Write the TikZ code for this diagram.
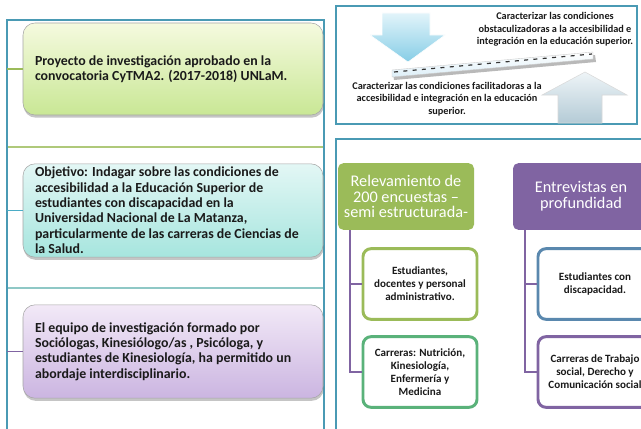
\documentclass[tikz,border=0pt]{standalone}
\usepackage{fontspec}
\setmainfont{Carlito}
\usetikzlibrary{shadows,calc}
\definecolor{frameC}{HTML}{4A9AB4}
\definecolor{olive}{HTML}{9BBB59}
\definecolor{tealC}{HTML}{4BACC6}
\definecolor{septeal}{HTML}{8FC8C6}
\definecolor{purp}{HTML}{8064A2}
\definecolor{greenB}{HTML}{5AB27A}
\definecolor{blueB}{HTML}{5A88AE}
\definecolor{txt}{HTML}{1A1A1A}
\definecolor{gA}{HTML}{F5FADF}
\definecolor{gB}{HTML}{C9E795}
\definecolor{cA}{HTML}{E3F7F5}
\definecolor{cB}{HTML}{A6E5DE}
\definecolor{lA}{HTML}{F2E9F7}
\definecolor{lB}{HTML}{CBB5E1}
\definecolor{dA}{HTML}{E2F4FA}
\definecolor{dB}{HTML}{86CDE6}
\definecolor{uA}{HTML}{EEF4F7}
\definecolor{uB}{HTML}{B4CBD6}
\definecolor{sB}{HTML}{DDEFF8}
\tikzset{
  frame/.style={draw=frameC, line width=1.5pt},
  bigbox/.style={draw=gray!70, line width=0.4pt, rounded corners=9pt,
    minimum width=225pt, minimum height=#1, inner sep=0pt,
    drop shadow={shadow xshift=0.5pt, shadow yshift=-2pt, opacity=0.45}},
  bigtxt/.style={anchor=west, inner sep=0pt, align=left, text=txt,
    font=\bfseries\fontsize{10.4}{11.5}\selectfont},
  header/.style={rounded corners=4pt, minimum width=102pt, minimum height=50pt,
    inner sep=0pt, align=center, text=white,
    font=\fontsize{12.2}{11.8}\selectfont},
  leaf/.style={draw=#1, line width=2.2pt, fill=white, rounded corners=6pt,
    minimum width=85.5pt, minimum height=53pt, inner sep=0pt, align=center,
    text=txt, font=\bfseries\fontsize{8.3}{9.8}\selectfont},
  treeline/.style={draw=purp, line width=2.2pt},
  smalltxt/.style={align=center, text=txt, inner sep=0pt,
    font=\bfseries\fontsize{7.7}{9.3}\selectfont},
}
\begin{document}
\begin{tikzpicture}[x=0.75pt,y=-0.75pt]
\clip (0,0) rectangle (641,428);
\fill[white] (0,0) rectangle (641,428);

% ---------- left panel ----------
\draw[frame] (7,20) rectangle (324,445);
\draw[olive!80, line width=1.2pt] (8,147) -- (323,147);
\draw[septeal, line width=1.2pt] (8,288) -- (323,288);
\coordinate (fl) at (7,0);

\node[bigbox=69pt, top color=gA, bottom color=gB] (p1) at (173,69) {};
\node[bigtxt] (p1t) at ([xshift=9pt]p1.west) {Proyecto de investigación aprobado en la\\convocatoria CyTMA2. (2017-2018) UNLaM.};
\node[bigbox=70pt, top color=cA, bottom color=cB] (p2) at (173,210.5) {};
\node[bigtxt] (p2t) at ([xshift=9pt]p2.west) {Objetivo: Indagar sobre las condiciones de\\accesibilidad a la Educación Superior de\\estudiantes con discapacidad en la\\Universidad Nacional de La Matanza,\\particularmente de las carreras de Ciencias de\\la Salud.};
\node[bigbox=70pt, top color=lA, bottom color=lB] (p3) at (173,351.5) {};
\node[bigtxt] (p3t) at ([xshift=9pt]p3.west) {El equipo de investigación formado por\\Sociólogas, Kinesiólogo/as , Psicóloga, y\\estudiantes de Kinesiología, ha permitido un\\abordaje interdisciplinario.};

\draw[olive, line width=0.8pt] (p1.west -| fl) -- (p1.west);
\draw[tealC, line width=0.8pt] (p2.west -| fl) -- (p2.west);
\draw[purp, line width=0.8pt] (p3.west -| fl) -- (p3.west);

% ---------- right top panel ----------
\draw[frame] (336,6) rectangle (637,124);
% down arrow
\shade[top color=dA, bottom color=dB, draw=white]
  (382,13) -- (430,13) -- (430,35) -- (445,35) -- (408,62) -- (370,35) -- (382,35) -- cycle;
% up arrow
\shade[top color=uA, bottom color=uB, draw=gray!30]
  (585,72) -- (627,95) -- (602,95) -- (602,123) -- (558,123) -- (558,95) -- (542,95) -- cycle;
% dashed slab
\fill[gray!55] (393,73) -- (595,55) -- (596,62) -- (394,80) -- cycle;
\shade[top color=white, bottom color=sB, draw=gray!40, line width=0.3pt]
  (392,70) -- (593,52) -- (593,59) -- (392,77) -- cycle;
\draw[black!80, dash pattern=on 3pt off 4pt, line width=0.9pt] (394,72) -- (592,54);

\node[smalltxt] (tt) at (555,29.5) {Caracterizar las condiciones\\obstaculizadoras a la accesibilidad e\\integración en la educación superior.};
\node[smalltxt] (tb) at (447,99) {Caracterizar las condiciones facilitadoras a la\\accesibilidad e integración en la educación\\superior.};

% ---------- right bottom panel ----------
\draw[frame] (336,139) rectangle (700,445);

\node[header, fill=olive] (g) at (406,196.5) {Relevamiento de\\200 encuestas –\\semi estructurada-};
\node[header, fill=purp] (h) at (581,196.5) {Entrevistas en\\profundidad};

\node[leaf=olive] (a) at (420,284) {Estudiantes,\\docentes y personal\\administrativo.};
\node[leaf=greenB] (b) at (420,372) {Carreras: Nutrición,\\Kinesiología,\\Enfermería y\\Medicina};
\node[leaf=blueB] (c) at (595,284) {Estudiantes con\\discapacidad.};
\node[leaf=purp] (d) at (595,372) {Carreras de Trabajo\\social, Derecho y\\Comunicación social};

\coordinate (t1) at (350,230);
\coordinate (t2) at (525,230);
\draw[treeline] (t1) |- (a.west);
\draw[treeline] (t1) |- (b.west);
\draw[treeline] (t2) |- (c.west);
\draw[treeline] (t2) |- (d.west);
\end{tikzpicture}
\end{document}
